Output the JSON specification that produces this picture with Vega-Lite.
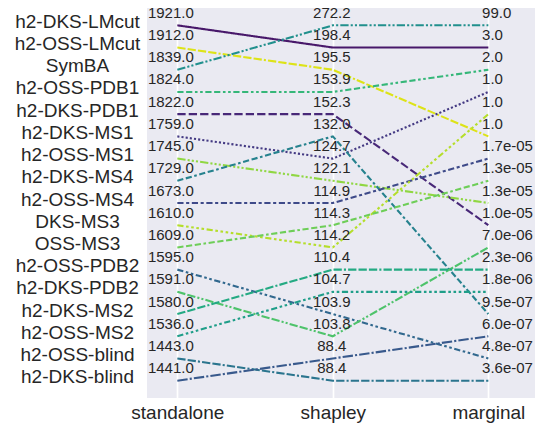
{
  "$schema": "https://vega.github.io/schema/vega-lite/v6.json",
  "width": 388,
  "height": 390,
  "autosize": {"type": "none"},
  "padding": {"left": 147, "top": 8, "right": 4, "bottom": 30},
  "background": "white",
  "config": {
    "view": {"fill": "#EAEAF2", "stroke": null},
    "font": "Liberation Sans",
    "axis": {"domain": false, "ticks": false, "title": null, "labelColor": "#262626", "labelFont": "Liberation Sans"}
  },
  "data": {
    "values": [
      {"m": "h2-DKS-LMcut", "col": 0, "rank": 0, "v": "1921.0"},
      {"m": "h2-DKS-LMcut", "col": 1, "rank": 1, "v": "198.4"},
      {"m": "h2-DKS-LMcut", "col": 2, "rank": 1, "v": "3.0"},
      {"m": "h2-OSS-LMcut", "col": 0, "rank": 1, "v": "1912.0"},
      {"m": "h2-OSS-LMcut", "col": 1, "rank": 2, "v": "195.5"},
      {"m": "h2-OSS-LMcut", "col": 2, "rank": 5, "v": "1.0"},
      {"m": "SymBA", "col": 0, "rank": 2, "v": "1839.0"},
      {"m": "SymBA", "col": 1, "rank": 0, "v": "272.2"},
      {"m": "SymBA", "col": 2, "rank": 0, "v": "99.0"},
      {"m": "h2-OSS-PDB1", "col": 0, "rank": 3, "v": "1824.0"},
      {"m": "h2-OSS-PDB1", "col": 1, "rank": 3, "v": "153.9"},
      {"m": "h2-OSS-PDB1", "col": 2, "rank": 2, "v": "2.0"},
      {"m": "h2-DKS-PDB1", "col": 0, "rank": 4, "v": "1822.0"},
      {"m": "h2-DKS-PDB1", "col": 1, "rank": 4, "v": "152.3"},
      {"m": "h2-DKS-PDB1", "col": 2, "rank": 9, "v": "1.0e-05"},
      {"m": "h2-DKS-MS1", "col": 0, "rank": 5, "v": "1759.0"},
      {"m": "h2-DKS-MS1", "col": 1, "rank": 6, "v": "124.7"},
      {"m": "h2-DKS-MS1", "col": 2, "rank": 3, "v": "1.0"},
      {"m": "h2-OSS-MS1", "col": 0, "rank": 6, "v": "1745.0"},
      {"m": "h2-OSS-MS1", "col": 1, "rank": 7, "v": "122.1"},
      {"m": "h2-OSS-MS1", "col": 2, "rank": 8, "v": "1.3e-05"},
      {"m": "h2-DKS-MS4", "col": 0, "rank": 7, "v": "1729.0"},
      {"m": "h2-DKS-MS4", "col": 1, "rank": 5, "v": "132.0"},
      {"m": "h2-DKS-MS4", "col": 2, "rank": 13, "v": "9.5e-07"},
      {"m": "h2-OSS-MS4", "col": 0, "rank": 8, "v": "1673.0"},
      {"m": "h2-OSS-MS4", "col": 1, "rank": 8, "v": "114.9"},
      {"m": "h2-OSS-MS4", "col": 2, "rank": 6, "v": "1.7e-05"},
      {"m": "DKS-MS3", "col": 0, "rank": 9, "v": "1610.0"},
      {"m": "DKS-MS3", "col": 1, "rank": 10, "v": "114.2"},
      {"m": "DKS-MS3", "col": 2, "rank": 4, "v": "1.0"},
      {"m": "OSS-MS3", "col": 0, "rank": 10, "v": "1609.0"},
      {"m": "OSS-MS3", "col": 1, "rank": 9, "v": "114.3"},
      {"m": "OSS-MS3", "col": 2, "rank": 7, "v": "1.3e-05"},
      {"m": "h2-OSS-PDB2", "col": 0, "rank": 11, "v": "1595.0"},
      {"m": "h2-OSS-PDB2", "col": 1, "rank": 13, "v": "103.9"},
      {"m": "h2-OSS-PDB2", "col": 2, "rank": 15, "v": "4.8e-07"},
      {"m": "h2-DKS-PDB2", "col": 0, "rank": 12, "v": "1591.0"},
      {"m": "h2-DKS-PDB2", "col": 1, "rank": 14, "v": "103.8"},
      {"m": "h2-DKS-PDB2", "col": 2, "rank": 10, "v": "7.0e-06"},
      {"m": "h2-DKS-MS2", "col": 0, "rank": 13, "v": "1580.0"},
      {"m": "h2-DKS-MS2", "col": 1, "rank": 11, "v": "110.4"},
      {"m": "h2-DKS-MS2", "col": 2, "rank": 11, "v": "2.3e-06"},
      {"m": "h2-OSS-MS2", "col": 0, "rank": 14, "v": "1536.0"},
      {"m": "h2-OSS-MS2", "col": 1, "rank": 12, "v": "104.7"},
      {"m": "h2-OSS-MS2", "col": 2, "rank": 12, "v": "1.8e-06"},
      {"m": "h2-OSS-blind", "col": 0, "rank": 15, "v": "1443.0"},
      {"m": "h2-OSS-blind", "col": 1, "rank": 16, "v": "88.4"},
      {"m": "h2-OSS-blind", "col": 2, "rank": 16, "v": "3.6e-07"},
      {"m": "h2-DKS-blind", "col": 0, "rank": 16, "v": "1441.0"},
      {"m": "h2-DKS-blind", "col": 1, "rank": 15, "v": "88.4"},
      {"m": "h2-DKS-blind", "col": 2, "rank": 14, "v": "6.0e-07"}
    ]
  },
  "encoding": {
    "x": {
      "field": "col", "type": "quantitative",
      "scale": {"domain": [-0.195, 2.3], "nice": false, "zero": false},
      "axis": {
        "values": [0, 1, 2],
        "labelExpr": "['standalone','shapley','marginal'][datum.value]",
        "grid": true, "gridColor": "white", "gridWidth": 1.7,
        "labelFontSize": 19, "labelPadding": 5
      }
    },
    "y": {
      "field": "rank", "type": "quantitative",
      "scale": {"domain": [-0.78, 16.78], "reverse": true, "nice": false, "zero": false},
      "axis": {
        "values": [0, 1, 2, 3, 4, 5, 6, 7, 8, 9, 10, 11, 12, 13, 14, 15, 16],
        "labelExpr": "['h2-DKS-LMcut','h2-OSS-LMcut','SymBA','h2-OSS-PDB1','h2-DKS-PDB1','h2-DKS-MS1','h2-OSS-MS1','h2-DKS-MS4','h2-OSS-MS4','DKS-MS3','OSS-MS3','h2-OSS-PDB2','h2-DKS-PDB2','h2-DKS-MS2','h2-OSS-MS2','h2-OSS-blind','h2-DKS-blind'][datum.value]",
        "grid": false, "labelFontSize": 19, "labelPadding": 70, "labelOffset": -4, "labelAlign": "center"
      }
    }
  },
  "layer": [
    {
      "mark": {"type": "line", "strokeWidth": 2.1, "strokeCap": "butt"},
      "encoding": {
        "color": {
          "field": "m", "type": "nominal", "legend": null,
          "scale": {
            "domain": ["h2-DKS-LMcut","h2-DKS-PDB1","h2-DKS-MS1","h2-OSS-MS4","h2-DKS-blind","h2-OSS-PDB2","h2-OSS-blind","h2-DKS-MS4","SymBA","h2-OSS-MS2","h2-DKS-MS2","h2-OSS-PDB1","h2-DKS-PDB2","OSS-MS3","h2-OSS-MS1","DKS-MS3","h2-OSS-LMcut"],
            "range": ["#48186a","#482878","#443a83","#3e4a89","#38598c","#31688e","#2b758e","#26828e","#21908d","#1f9e89","#24aa83","#35b779","#4ec36b","#6ece58","#90d743","#b5de2b","#dde318"]
          }
        },
        "strokeDash": {
          "field": "m", "type": "nominal", "legend": null,
          "scale": {
            "domain": ["h2-DKS-LMcut","h2-DKS-PDB1","h2-DKS-MS1","h2-OSS-MS4","h2-DKS-blind","h2-OSS-PDB2","h2-OSS-blind","h2-DKS-MS4","SymBA","h2-OSS-MS2","h2-DKS-MS2","h2-OSS-PDB1","h2-DKS-PDB2","OSS-MS3","h2-OSS-MS1","DKS-MS3","h2-OSS-LMcut"],
            "range": [
              [1, 0],
              [8.3, 3.1],
              [2.1, 2.1],
              [6.2, 2.6, 3.1, 2.6],
              [10.4, 2.1, 2.1, 2.1],
              [6.2, 2.6, 2.6, 2.6, 2.6, 2.6],
              [8.3, 2.1, 8.3, 2.1, 2.1, 2.1],
              [6.2, 2.6, 6.2, 2.6, 2.6, 2.6],
              [8.3, 2.1, 2.1, 2.1, 2.1, 2.1],
              [6.2, 2.6, 2.6, 2.6, 2.6, 2.6, 2.6, 2.6],
              [8.3, 2.1, 8.3, 2.1, 8.3, 2.1, 2.1, 2.1],
              [6.2, 2.6, 6.2, 2.6, 2.6, 2.6, 2.6, 2.6],
              [8.3, 2.1, 8.3, 2.1, 2.1, 2.1, 2.1, 2.1],
              [6.2, 2.6, 6.2, 2.6, 6.2, 2.6, 2.6, 2.6],
              [8.3, 2.1, 2.1, 2.1, 2.1, 2.1, 2.1, 2.1],
              [6.2, 2.6, 2.6, 2.6, 2.6, 2.6, 2.6, 2.6, 2.6, 2.6],
              [8.3, 2.1, 8.3, 2.1, 8.3, 2.1, 8.3, 2.1, 2.1, 2.1]
            ]
          }
        }
      }
    },
    {
      "transform": [{"filter": "datum.col == 0"}],
      "mark": {"type": "text", "fontSize": 15, "color": "#262626", "align": "center", "baseline": "alphabetic", "dx": -6.5, "dy": -7.5},
      "encoding": {"text": {"field": "v", "type": "nominal"}}
    },
    {
      "transform": [{"filter": "datum.col == 1"}],
      "mark": {"type": "text", "fontSize": 15, "color": "#262626", "align": "center", "baseline": "alphabetic", "dx": -1, "dy": -7.5},
      "encoding": {"text": {"field": "v", "type": "nominal"}}
    },
    {
      "transform": [{"filter": "datum.col == 2"}],
      "mark": {"type": "text", "fontSize": 15, "color": "#262626", "align": "left", "baseline": "alphabetic", "dx": -6.3, "dy": -7.5},
      "encoding": {"text": {"field": "v", "type": "nominal"}}
    }
  ]
}
